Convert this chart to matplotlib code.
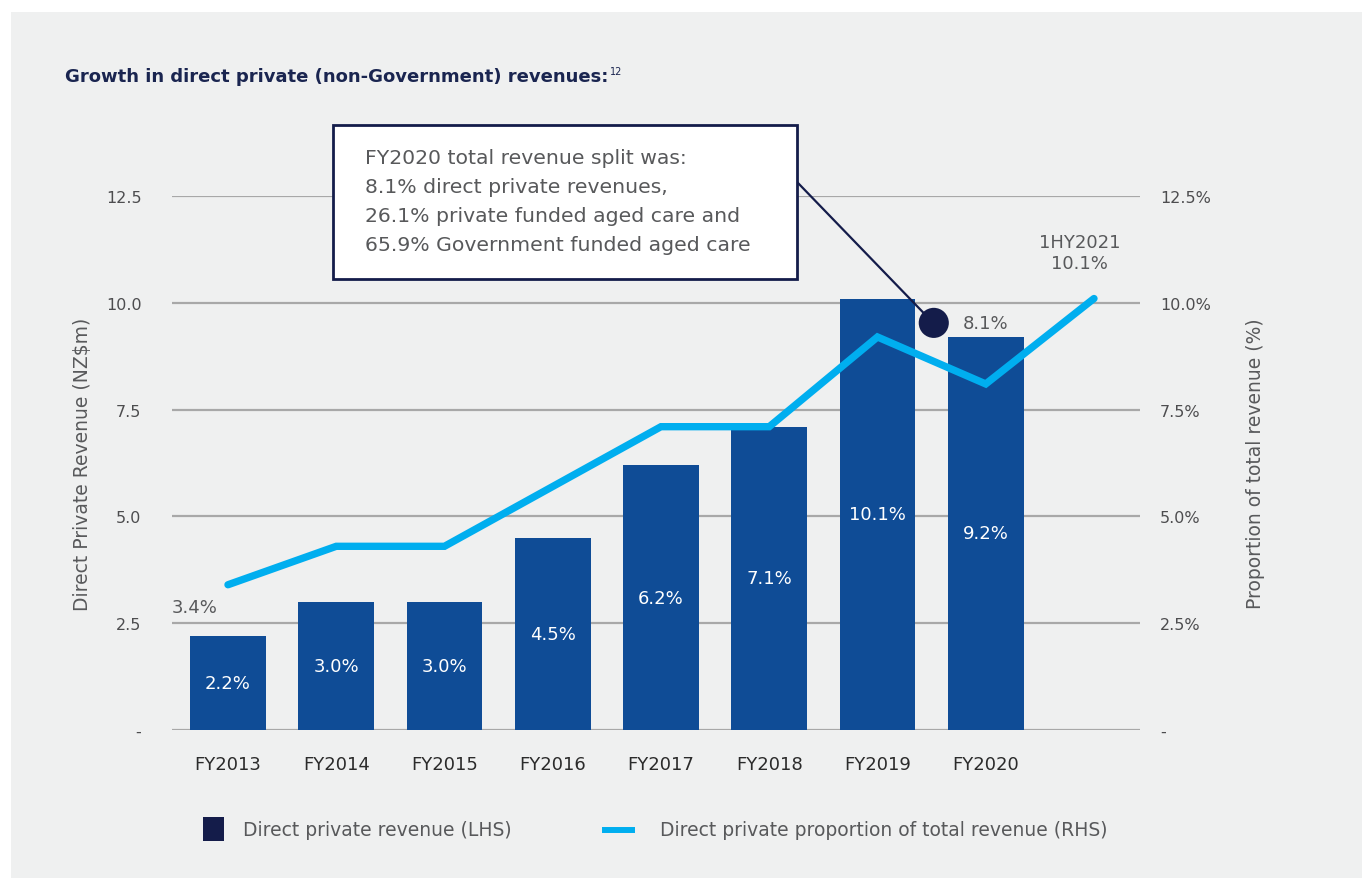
import numpy as np
import matplotlib.pyplot as plt
from matplotlib.lines import Line2D

plt.rcParams['font.family'] = ['DejaVu Sans']

# revenue bars (NZ$m) and share of total revenue (%)
years = ["FY2013", "FY2014", "FY2015", "FY2016", "FY2017", "FY2018", "FY2019", "FY2020"]
revenue = [2.2, 3.0, 3.0, 4.5, 6.2, 7.1, 10.1, 9.2]
bar_labels = ["2.2%", "3.0%", "3.0%", "4.5%", "6.2%", "7.1%", "10.1%", "9.2%"]
share_periods = years + ["1HY2021"]
share = [3.4, 4.3, 4.3, 5.7, 7.1, 7.1, 9.2, 8.1, 10.1]

y_ticks = [0, 2.5, 5.0, 7.5, 10.0, 12.5]
left_tick_labels = ["-", "2.5", "5.0", "7.5", "10.0", "12.5"]
right_tick_labels = ["-", "2.5%", "5.0%", "7.5%", "10.0%", "12.5%"]

note_lines = ["FY2020 total revenue split was:",
              "8.1% direct private revenues,",
              "26.1% private funded aged care and",
              "65.9% Government funded aged care"]

bg = "#eff0f0"
bar_col = "#0f4c96"
line_col = "#00aeef"
navy = "#141c4a"
grey_txt = "#58595b"

W, H = 1362, 879
fig = plt.figure(figsize=(W / 100, H / 100), dpi=100)
fig.patch.set_facecolor("white")
# grey panel behind everything
fig.patches.append(plt.Rectangle((11 / W, 0), 1, 1 - 13 / H, transform=fig.transFigure,
                                 facecolor=bg, edgecolor="none", zorder=-10))

ax = fig.add_axes([172 / W, 1 - 731 / H, (1140 - 172) / W, 534 / H])
ax.set_facecolor("none")
x = np.arange(len(years))
xs = np.arange(len(share_periods))

ax.set_xlim(-0.517, 8.425)
ax.set_ylim(0, 12.5)
for s in ax.spines.values():
    s.set_visible(False)
ax.set_yticks(y_ticks)
ax.set_yticklabels(left_tick_labels)
ax.grid(axis="y", color="#a8a8a8", lw=1.6, zorder=0)
ax.tick_params(axis="y", length=0, pad=22, labelsize=11.5, labelcolor="#4d4d4f")
ax.set_xticks(x)
ax.set_xticklabels(years, fontsize=13, color="#2b2b2b")
ax.tick_params(axis="x", length=0, pad=18)

ax.bar(x, revenue, width=0.70, color=bar_col, zorder=2)
for xi, v, t in zip(x, revenue, bar_labels):
    ax.text(xi, v / 2, t, color="white", ha="center", va="center", fontsize=13, zorder=4)

ax.plot(xs, share, color=line_col, lw=5.3, solid_capstyle="round", solid_joinstyle="miter", zorder=3)

ax.set_ylabel("Direct Private Revenue (NZ$m)", fontsize=13.5, color=grey_txt, labelpad=10)

ax2 = ax.twinx()
ax2.set_ylim(0, 12.5)
ax2.set_yticks(y_ticks)
ax2.set_yticklabels(right_tick_labels)
for s in ax2.spines.values():
    s.set_visible(False)
ax2.tick_params(axis="y", length=0, pad=14.5, labelsize=11.5, labelcolor="#4d4d4f")
ax2.set_ylabel("Proportion of total revenue (%)", fontsize=13.5, color=grey_txt, labelpad=25)

# point labels on the line
ax.text(-0.31, 2.88, "3.4%", ha="center", va="center", fontsize=13, color=grey_txt)
ax.text(7.0, 9.53, "8.1%", ha="center", va="center", fontsize=13, color=grey_txt)
ax.text(7.87, 11.17, "1HY2021\n10.1%", ha="center", va="center", fontsize=13,
        color=grey_txt, linespacing=1.2)

# call-out box with leader line and marker
ax.plot([5.26, 6.45], [12.82, 9.7], color=navy, lw=1.6, clip_on=False, zorder=5)
ax.scatter([6.52], [9.53], s=470, color=navy, edgecolor="none", zorder=6)
box = plt.Rectangle((333 / W, 1 - 280 / H), (797 - 333) / W, (280 - 126) / H,
                    transform=fig.transFigure, facecolor="white", edgecolor=navy, lw=2, zorder=7)
fig.patches.append(box)
for i, t in enumerate(note_lines):
    fig.text(365 / W, 1 - (158 + 29.3 * i) / H, t, fontsize=14.7, color=grey_txt,
             ha="left", va="center", zorder=8)

# title with footnote reference
title = fig.text(65 / W, 1 - 77 / H, "Growth in direct private (non-Government) revenues:",
                 fontsize=13, color="#1a2550", fontweight="bold", ha="left", va="center")
fig.canvas.draw()
bb = title.get_window_extent()
fig.text(bb.x1 / W + 0.001, 1 - 72 / H, "12", fontsize=7, color="#1a2550",
         ha="left", va="center")

# legend entries
fig.patches.append(plt.Rectangle((203 / W, 1 - 842 / H), 21 / W, 24 / H,
                                 transform=fig.transFigure, facecolor=navy, edgecolor="none"))
fig.lines.append(Line2D([605 / W, 632 / W], [1 - 831 / H, 1 - 831 / H],
                        transform=fig.transFigure, color=line_col, lw=4.3))
fig.text(243 / W, 1 - 831 / H, "Direct private revenue (LHS)", fontsize=13.5,
         color=grey_txt, ha="left", va="center")
fig.text(660 / W, 1 - 831 / H, "Direct private proportion of total revenue (RHS)", fontsize=13.5,
         color=grey_txt, ha="left", va="center")

fig.savefig("out.png", dpi=100, facecolor=fig.get_facecolor())
